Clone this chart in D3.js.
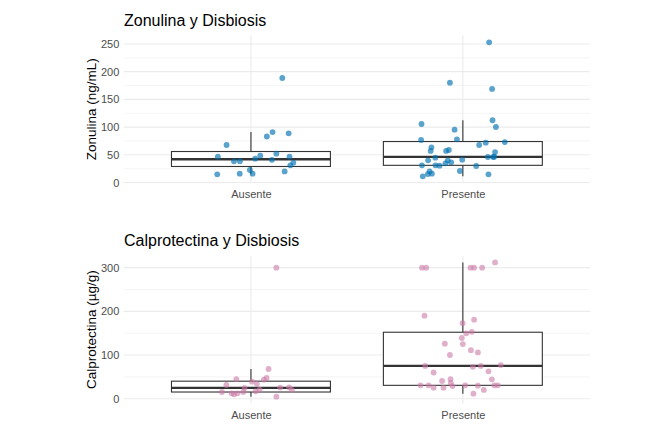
<!DOCTYPE html>
<html><head><meta charset="utf-8">
<script src="https://cdn.jsdelivr.net/npm/d3@7"></script>
<style>
body{margin:0;background:#fff;}
svg{font-family:"Liberation Sans",Arial,sans-serif;}
</style></head>
<body><svg id="c" width="663" height="433"></svg>
<script>
const categories = ["Ausente", "Presente"];

const zonAusente = [188.6, 91, 88.8, 83, 67.7, 52, 48.4, 46.6, 46.6, 43, 38.2, 38.5, 41, 35.8, 31, 20, 22.6, 14.7, 15.9, 15.9];
const zonAusenteJitter = [0.148, 0.102, 0.178, 0.075, -0.115, 0.12, 0.044, -0.156, 0.182, 0.02, -0.08, -0.052, 0.099, 0.2, 0.186, 0.159, -0.005, -0.159, -0.053, 0.008];
const zonPresente = [253, 180, 168.8, 105.6, 112.3, 100.2, 95.3, 78, 76.7, 73, 71.9, 67.7, 63.5, 56.9, 58.7, 56.9, 55, 44.8, 46, 46, 46.5, 41.2, 40, 40, 36.5, 34.7, 31, 31, 30.3, 29.8, 20.8, 20.2, 15.9, 15.3, 11.2, 14.8];
const zonPresenteJitter = [0.124, -0.061, 0.138, -0.195, 0.14, 0.156, -0.039, -0.028, -0.197, 0.198, 0.108, 0.077, -0.148, -0.152, -0.066, -0.079, 0.152, -0.13, 0.118, 0.143, 0.148, -0.003, -0.164, -0.071, -0.055, -0.082, -0.193, -0.129, -0.11, 0.063, -0.014, -0.157, -0.146, -0.165, -0.189, 0.121];

const calAusente = [300, 68, 47.4, 43.5, 45, 39, 33.6, 31.4, 24.5, 25.5, 26, 20, 20.6, 16.9, 15.3, 15.3, 12.3, 10, 12.3, 4.6];
const calAusenteJitter = [0.12, 0.083, 0.074, 0.061, -0.069, 0.005, 0.028, -0.116, -0.03, 0.138, 0.18, 0.193, 0.041, 0.022, -0.137, -0.036, -0.091, -0.08, -0.064, 0.12];
const calPresente = [312, 300, 300, 300, 300, 300, 190, 181, 173, 153, 149.6, 139, 126, 125, 111, 106, 100, 77, 75, 73, 75, 60, 62.6, 44.4, 45, 40.5, 36, 30.6, 30.6, 25.2, 25.2, 29, 30.6, 29.8, 30.6, 30.6, 20, 11.5];
const calPresenteJitter = [0.152, -0.193, -0.173, 0.036, 0.053, 0.091, -0.181, 0.053, -0.001, 0.042, 0.016, -0.005, -0.085, 0, 0.038, 0.071, -0.061, 0.179, -0.178, 0.047, 0.085, -0.138, 0.121, 0.137, -0.058, -0.098, -0.057, -0.2, -0.162, -0.138, -0.091, -0.049, 0.011, 0.071, 0.149, 0.165, 0.099, 0.05];

const zonTicks = [0, 50, 100, 150, 200, 250];
const zonMinor = [25, 75, 125, 175, 225];
const calTicks = [0, 100, 200, 300];
const calMinor = [50, 150, 250];

const panels = [
  {title: "Zonulina y Disbiosis", ylab: "Zonulina (ng/mL)", groups: [[zonAusente, zonAusenteJitter],[zonPresente, zonPresenteJitter]],
   ticks: zonTicks, minor: zonMinor, color: "#0072B2", alpha: 0.65,
   left: 123.8, right: 590, top: 35.6, bottom: 183.0, titleY: 26, xlabY: 198},
  {title: "Calprotectina y Disbiosis", ylab: "Calprotectina (\u00b5g/g)", groups: [[calAusente, calAusenteJitter],[calPresente, calPresenteJitter]],
   ticks: calTicks, minor: calMinor, color: "#CC79A7", alpha: 0.6,
   left: 123.8, right: 590, top: 255.7, bottom: 403.4, titleY: 246, xlabY: 419}
];

const svg = d3.select("#c");

function stats(v) {
  const s = v.slice().sort(d3.ascending);
  const q1 = d3.quantileSorted(s, 0.25), med = d3.quantileSorted(s, 0.5), q3 = d3.quantileSorted(s, 0.75);
  const iqr = q3 - q1;
  const hi = d3.max(s.filter(d => d <= q3 + 1.5 * iqr));
  const lo = d3.min(s.filter(d => d >= q1 - 1.5 * iqr));
  return {q1, med, q3, hi, lo};
}

panels.forEach(p => {
  const all = p.groups.flatMap(g => g[0]);
  const mn = d3.min(all), mx = d3.max(all), r = mx - mn;
  const y = d3.scaleLinear().domain([mn - 0.05 * r, mx + 0.05 * r]).range([p.bottom, p.top]);
  const x = d3.scalePoint().domain(categories).range([p.left, p.right]).padding(0.6);
  const step = x.step();
  const g = svg.append("g");

  // grid
  g.selectAll(".mn").data(p.minor).join("line")
    .attr("x1", p.left).attr("x2", p.right).attr("y1", d => y(d)).attr("y2", d => y(d))
    .attr("stroke", "#ebebeb").attr("stroke-width", 0.55);
  g.selectAll(".mj").data(p.ticks).join("line")
    .attr("x1", p.left).attr("x2", p.right).attr("y1", d => y(d)).attr("y2", d => y(d))
    .attr("stroke", "#ebebeb").attr("stroke-width", 1.1);
  g.selectAll(".vx").data(categories).join("line")
    .attr("x1", d => x(d)).attr("x2", d => x(d)).attr("y1", p.top).attr("y2", p.bottom)
    .attr("stroke", "#ebebeb").attr("stroke-width", 1.1);

  // boxes
  p.groups.forEach((grp, i) => {
    const st = stats(grp[0]);
    const cx = x(categories[i]), w = step * 0.75;
    g.append("line").attr("x1", cx).attr("x2", cx).attr("y1", y(st.q3)).attr("y2", y(st.hi))
      .attr("stroke", "#333").attr("stroke-width", 1.1);
    g.append("line").attr("x1", cx).attr("x2", cx).attr("y1", y(st.q1)).attr("y2", y(st.lo))
      .attr("stroke", "#333").attr("stroke-width", 1.1);
    g.append("rect").attr("x", cx - w / 2).attr("width", w).attr("y", y(st.q3)).attr("height", y(st.q1) - y(st.q3))
      .attr("fill", "#fff").attr("stroke", "#333").attr("stroke-width", 1.1);
    g.append("line").attr("x1", cx - w / 2).attr("x2", cx + w / 2).attr("y1", y(st.med)).attr("y2", y(st.med))
      .attr("stroke", "#333").attr("stroke-width", 2.3);
  });

  // points
  p.groups.forEach((grp, i) => {
    const cx = x(categories[i]);
    g.selectAll(null).data(grp[0].map((v, k) => [v, grp[1][k]])).join("circle")
      .attr("cx", d => cx + d[1] * step).attr("cy", d => y(d[0])).attr("r", 2.9)
      .attr("fill", p.color).attr("fill-opacity", p.alpha);
  });

  // axes
  const ya = d3.axisLeft(y).tickValues(p.ticks).tickSize(0).tickPadding(4.5);
  const yg = g.append("g").attr("transform", `translate(${p.left},0)`).call(ya);
  yg.select(".domain").remove();
  yg.selectAll("text").attr("fill", "#4d4d4d").style("font-size", "11px").style("font-family", "'Liberation Sans',Arial,sans-serif");

  const xa = d3.axisBottom(x).tickSize(0).tickPadding(p.xlabY - p.bottom - 7.8);
  const xg = g.append("g").attr("transform", `translate(0,${p.bottom})`).call(xa);
  xg.select(".domain").remove();
  xg.selectAll("text").attr("fill", "#4d4d4d").style("font-size", "11px").style("font-family", "'Liberation Sans',Arial,sans-serif");

  g.append("text").attr("x", 124).attr("y", p.titleY).text(p.title)
    .attr("fill", "#000").style("font-size", "16px");
  g.append("text").attr("transform", `translate(95.5,${(p.top + p.bottom) / 2}) rotate(-90)`)
    .attr("text-anchor", "middle").text(p.ylab).attr("fill", "#000").style("font-size", "13.5px");
});
</script></body></html>
